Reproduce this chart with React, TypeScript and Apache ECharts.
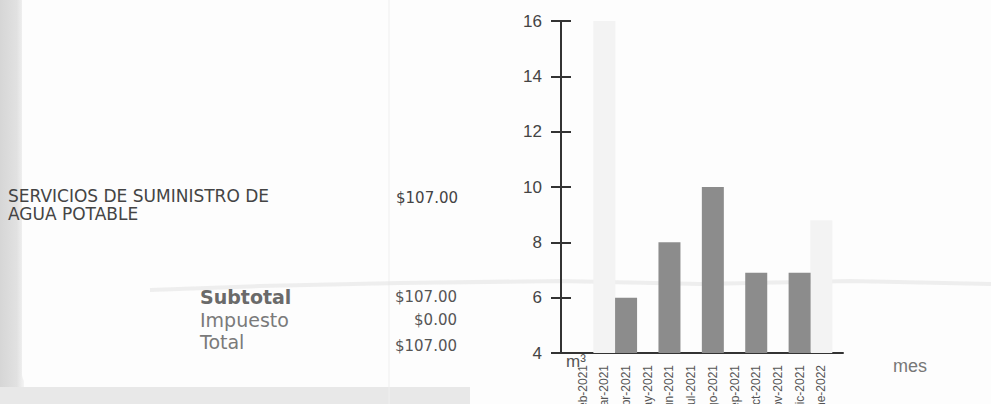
import React, { useEffect, useRef } from "react";
import * as echarts from "echarts";

// ---- data ----
const months = [
  "feb-2021", "mar-2021", "abr-2021", "may-2021", "jun-2021", "jul-2021",
  "ago-2021", "sep-2021", "oct-2021", "nov-2021", "dic-2021", "ene-2022",
];
// printed (dark) bars, m³
const consumo: (number | null)[] = [null, null, 6, null, 8, null, 10, null, 6.9, null, 6.9, null];
// faded (barely printed) bars, m³
const consumoTenue: (number | null)[] = [null, 16, null, null, null, null, null, null, null, null, null, 8.8];
const yMin = 4;
const yMax = 16;
const yStep = 2;

const conceptoLineas = ["SERVICIOS DE SUMINISTRO DE", "AGUA POTABLE"];
const conceptoImporte = "$107.00";
const resumenEtiquetas = ["Subtotal", "Impuesto", "Total"];
const resumenImportes = ["$107.00", "$0.00", "$107.00"];
const unidadY = "m³";
const unidadX = "mes";

export default function App() {
  const ref = useRef<HTMLDivElement>(null);

  useEffect(() => {
    if (!ref.current) return;
    const chart = echarts.init(ref.current, undefined, { renderer: "svg", width: 991, height: 404 });

    const toPairs = (arr: (number | null)[]) =>
      arr.map((v, i) => (v == null ? null : [i, v])).filter((d) => d !== null);

    const summaryY = [297, 320, 342];
    const summaryValY = [297, 320, 346];

    const option: any = {
      animation: false,
      backgroundColor: "#fdfdfd",
      grid: { left: 561, right: 148, top: 21, bottom: 51, containLabel: false, outerBoundsMode: "none" },
      xAxis: {
        type: "value",
        min: -1,
        max: months.length,
        interval: 1,
        axisLine: { show: true, onZero: false, lineStyle: { color: "#333", width: 2 } },
        axisTick: { show: false },
        splitLine: { show: false },
        axisLabel: {
          rotate: 90,
          margin: 12,
          fontSize: 12,
          color: "#555",
          fontFamily: "Liberation Sans",
          formatter: (v: number) => months[v] ?? "",
        },
      },
      yAxis: [
        {
          type: "value",
          min: yMin,
          max: yMax,
          interval: yStep,
          position: "left",
          axisLine: { show: true, onZero: false, lineStyle: { color: "#333", width: 2 } },
          axisTick: { show: true, length: 10, lineStyle: { color: "#333", width: 2 } },
          splitLine: { show: false },
          axisLabel: { margin: 19, fontSize: 17, color: "#444", fontFamily: "Liberation Sans" },
        },
        {
          type: "value",
          min: yMin,
          max: yMax,
          interval: yStep,
          position: "left",
          offset: 0,
          axisLine: { show: false, onZero: false },
          axisTick: { show: true, inside: true, length: 10, lineStyle: { color: "#333", width: 2 } },
          splitLine: { show: false },
          axisLabel: { show: false },
        },
      ],
      series: [
        {
          type: "bar",
          name: "tenue",
          data: toPairs(consumoTenue),
          barWidth: 22,
          barGap: "-100%",
          itemStyle: { color: "#f3f3f3" },
          z: 1,
        },
        {
          type: "bar",
          name: "consumo",
          data: toPairs(consumo),
          barWidth: 22,
          barGap: "-100%",
          itemStyle: { color: "#8c8c8c" },
          z: 2,
        },
      ],
      graphic: [
        // paper edges
        { type: "rect", z: -10, shape: { x: 0, y: 0, width: 24, height: 404 },
          style: { fill: new echarts.graphic.LinearGradient(0, 0, 1, 0, [
            { offset: 0, color: "#d6d6d6" }, { offset: 0.7, color: "#e1e1e1" }, { offset: 1, color: "#f4f4f4" },
          ]) } },
        { type: "rect", z: -10, shape: { x: 0, y: 387, width: 470, height: 17 }, style: { fill: "#e8e8e8" } },
        { type: "rect", z: -9, shape: { x: 22, y: -20, width: 560, height: 406, r: [0, 0, 0, 12] }, style: { fill: "#fdfdfd" } },
        // folds
        { type: "line", z: -8, shape: { x1: 389, y1: 0, x2: 389, y2: 404 }, style: { stroke: "#efefef", lineWidth: 1 } },
        { type: "polyline", z: -8, shape: { points: [[150, 290], [260, 286], [400, 283], [560, 281], [700, 284], [850, 281], [991, 284]] },
          style: { stroke: "#e4e4e4", lineWidth: 4, fill: "none", opacity: 0.6 } },
        // concept
        ...conceptoLineas.map((t, i) => ({
          type: "text", x: 8, y: 196 + i * 18,
          style: { text: t, fontSize: 17, fontFamily: "DejaVu Sans", fill: "#444", textVerticalAlign: "middle" },
        })),
        { type: "text", x: 396, y: 198,
          style: { text: conceptoImporte, fontSize: 15, fontFamily: "DejaVu Sans", fill: "#444", textVerticalAlign: "middle" } },
        // summary
        ...resumenEtiquetas.map((t, i) => ({
          type: "text", x: 200, y: summaryY[i],
          style: { text: t, fontSize: 19, fontWeight: i === 0 ? "bold" : "normal", fontFamily: "DejaVu Sans",
            fill: i === 0 ? "#6a6a6a" : "#7a7a7a", textVerticalAlign: "middle" },
        })),
        ...resumenImportes.map((t, i) => ({
          type: "text", x: 457, y: summaryValY[i],
          style: { text: t, fontSize: 15, fontFamily: "DejaVu Sans", fill: "#555", textAlign: "right", textVerticalAlign: "middle" },
        })),
        // units
        { type: "text", x: 566, y: 361,
          style: { text: unidadY, fontSize: 17, fontFamily: "Liberation Sans", fill: "#555", textVerticalAlign: "middle" } },
        { type: "text", x: 893, y: 366,
          style: { text: unidadX, fontSize: 18, fontFamily: "Liberation Sans", fill: "#777", textVerticalAlign: "middle" } },
      ],
    };

    chart.setOption(option);
    return () => chart.dispose();
  }, []);

  return (
    <div
      ref={ref}
      style={{ position: "absolute", left: 0, top: 0, width: 991, height: 404, overflow: "hidden" }}
    />
  );
}
